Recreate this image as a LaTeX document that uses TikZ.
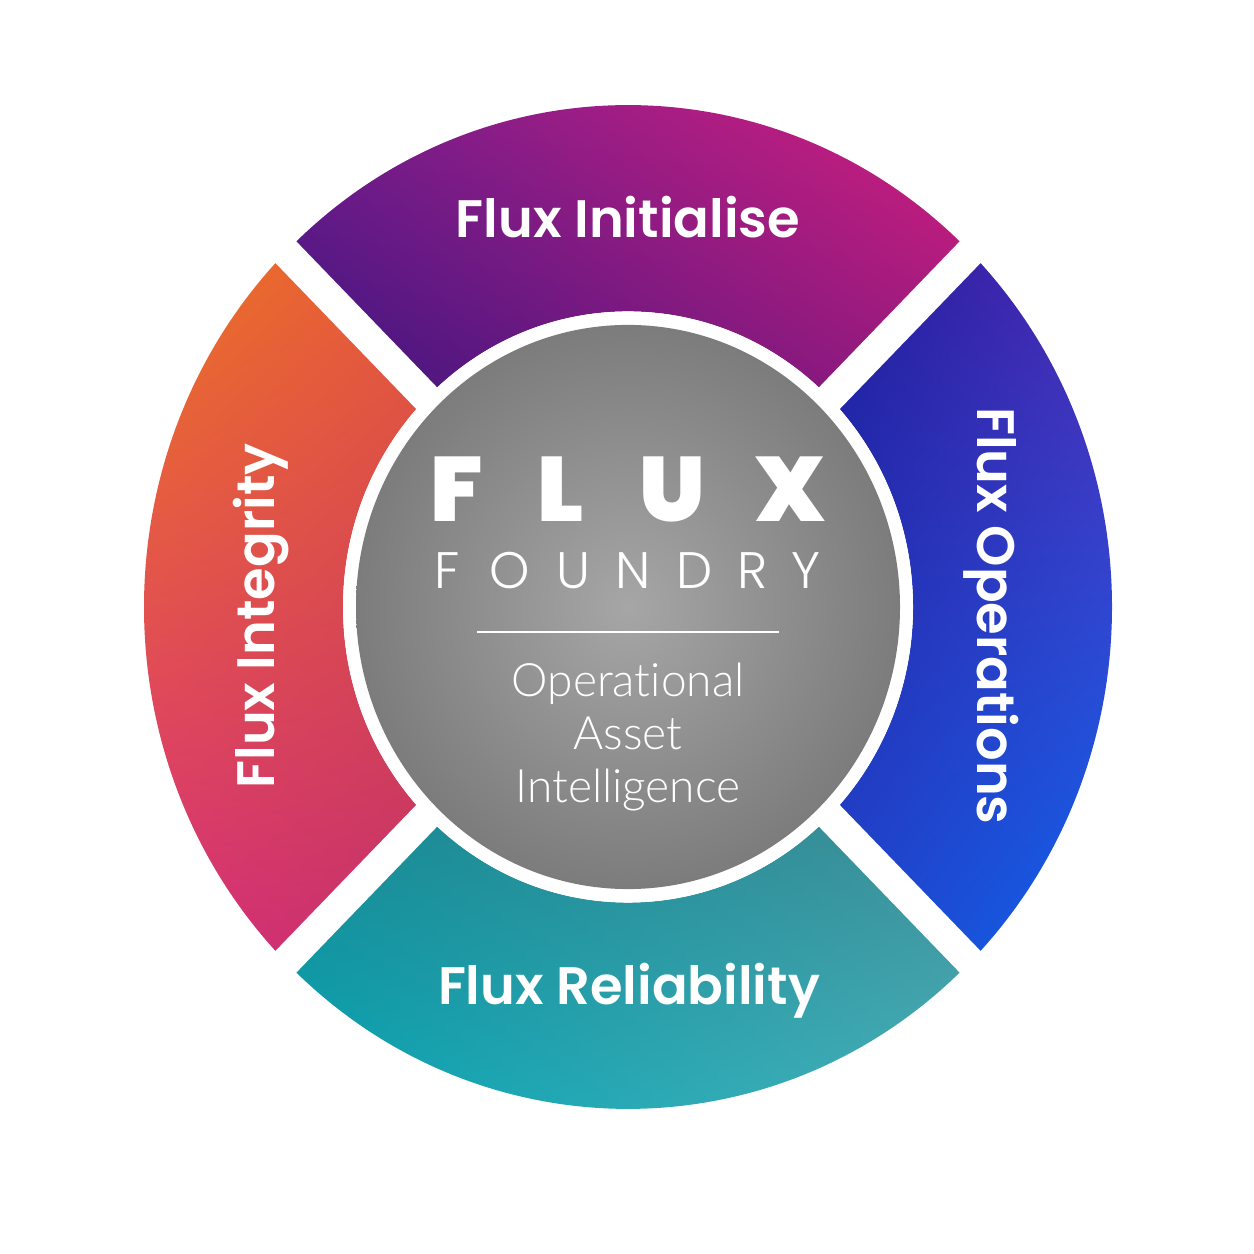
\documentclass[tikz,border=0pt]{standalone}
\usepackage{fontspec}
\usepackage{tikz}
\usepackage{xcolor}
\usetikzlibrary{shadings}
\setmainfont{Poppins}
\newfontfamily\labelfont{Poppins SemiBold}
\newfontfamily\brandfont{Poppins Black}
\newfontfamily\lightfont{Poppins Light}
\newfontfamily\subfont{Lato Light}[Ligatures=NoCommon]
\definecolor{iniA}{HTML}{3A1580}
\definecolor{iniB}{HTML}{7A1E8E}
\definecolor{iniC}{HTML}{DE1F7C}
\definecolor{iniD}{HTML}{9A1A7E}
\definecolor{intA}{HTML}{EE7A1E}
\definecolor{intB}{HTML}{E65A3A}
\definecolor{intC}{HTML}{DC2E7E}
\definecolor{intD}{HTML}{C3306A}
\definecolor{opA}{HTML}{1F1C9C}
\definecolor{opB}{HTML}{5A2CB8}
\definecolor{opC}{HTML}{2244CC}
\definecolor{opD}{HTML}{0A68F2}
\definecolor{relA}{HTML}{168A94}
\definecolor{relB}{HTML}{3E8E98}
\definecolor{relC}{HTML}{06A8B8}
\definecolor{relD}{HTML}{4AB6BE}
\definecolor{hubIn}{HTML}{A6A6A6}
\definecolor{hubOut}{HTML}{7C7C7C}

\begin{document}
\begin{tikzpicture}[
  lbl/.style={text=white, inner sep=0pt, anchor=base,
              font=\labelfont\fontsize{15}{18}\selectfont},
  brand/.style={text=white, inner sep=0pt, anchor=base,
                font=\brandfont\fontsize{26}{30}\selectfont},
  foundry/.style={text=white, inner sep=0pt, anchor=base,
                  font=\lightfont\fontsize{14.6}{17}\selectfont},
  sub/.style={text=white, inner sep=0pt, anchor=base,
              font=\subfont\fontsize{13.1}{16}\selectfont},
  gap/.style={white, line width=0.30cm},
]
  \useasboundingbox (-6.28,-6.47) rectangle (6.26,6.07);

  \begin{scope}[yscale=1.037]
    % four ring segments
    \shade[lower left=iniA, upper left=iniB, upper right=iniC, lower right=iniD]
      (45:4.84) arc (45:135:4.84) -- (135:2.85) arc (135:45:2.85) -- cycle;
    \shade[upper left=intA, upper right=intB, lower left=intC, lower right=intD]
      (135:4.84) arc (135:225:4.84) -- (225:2.85) arc (225:135:2.85) -- cycle;
    \shade[upper left=opA, upper right=opB, lower left=opC, lower right=opD]
      (-45:4.84) arc (-45:45:4.84) -- (45:2.85) arc (45:-45:2.85) -- cycle;
    \shade[upper left=relA, upper right=relB, lower left=relC, lower right=relD]
      (225:4.84) arc (225:315:4.84) -- (315:2.85) arc (315:225:2.85) -- cycle;

    % white gaps
    \draw[gap] (45:5.1) -- (225:5.1);
    \draw[gap] (135:5.1) -- (315:5.1);

    % hub
    \fill[white] (0,0) circle (2.85);
    \shade[inner color=hubIn, outer color=hubOut] (0,0) circle (2.72);
  \end{scope}

  \node[lbl] (init) at (0,3.69) {Flux Initialise};
  \node[lbl, rotate=90] (integ) at (-3.53,-0.09) {Flux Integrity};
  \node[lbl, rotate=-90] (oper) at (3.49,-0.09) {Flux Operations};
  \node[lbl] (relia) at (0.01,-3.98) {Flux Reliability};

  \foreach \ch/\x [count=\i] in {F/-1.71, L/-0.67, U/0.44, X/1.62}
    \node[brand] (flux-\i) at (\x,0.85) {\ch};
  \foreach \ch/\x [count=\i] in {F/-1.81, O/-1.18, U/-0.55, N/0.05, D/0.67, R/1.25, Y/1.78}
    \node[foundry] (foundry-\i) at (\x,0.18) {\ch};

  \coordinate (rule-l) at (-1.51,-0.25);
  \coordinate (rule-r) at (1.51,-0.25);
  \draw[white, line width=0.6pt] (rule-l) -- (rule-r);

  \node[sub] (sub-1) at (0,-0.90) {Operational};
  \node[sub] (sub-2) at (0,-1.43) {Asset};
  \node[sub] (sub-3) at (0,-1.96) {Intelligence};
\end{tikzpicture}
\end{document}
